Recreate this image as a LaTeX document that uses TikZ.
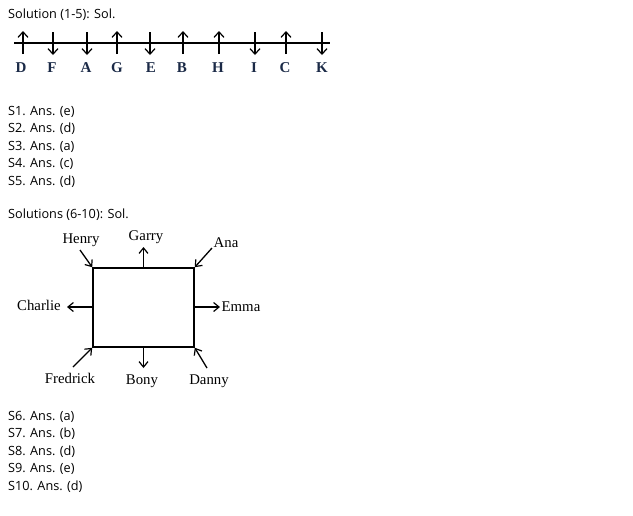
\documentclass[tikz,border=0pt]{standalone}
\usepackage{fontspec}
\setmainfont{Open Sans}
\newfontfamily\labelfont{Liberation Serif}
\usetikzlibrary{arrows.meta}
\definecolor{ltrnavy}{HTML}{1B2A47}
\begin{document}
\begin{tikzpicture}[x=1pt,y=-1pt,
  txt/.style={anchor=base west,inner sep=0pt,font=\fontsize{12.7}{15}\selectfont},
  ltr/.style={inner sep=0pt,font=\labelfont\bfseries\fontsize{15}{17}\selectfont,text=ltrnavy},
  who/.style={inner sep=0pt,font=\labelfont\fontsize{14.8}{17}\selectfont},
  arr/.style={line width=1.4pt,-{Straight Barb[length=5.5pt,width=10pt,line width=1.2pt]}},
  lnk/.style={line width=1.3pt,-{Straight Barb[length=5.5pt,width=9pt,line width=1.2pt]}}]
 \useasboundingbox (0,0) rectangle (633,515);
 \node (sol 1) at (8,18) [txt] {Solution (1-5): Sol.};
 % row
 \coordinate (row l) at (14,43);
 \coordinate (row r) at (330,43);
 \draw[line width=1.3pt] (row l) -- (row r);
 \coordinate (lo D) at (23,54); \coordinate (hi D) at (23,31);
 \coordinate (lo F) at (53,55); \coordinate (hi F) at (53,32);
 \coordinate (lo A) at (87,55); \coordinate (hi A) at (87,32);
 \coordinate (lo G) at (117,54); \coordinate (hi G) at (117,31);
 \coordinate (lo E) at (150,55); \coordinate (hi E) at (150,32);
 \coordinate (lo B) at (183,54); \coordinate (hi B) at (183,31);
 \coordinate (lo H) at (219,54); \coordinate (hi H) at (219,31);
 \coordinate (lo I) at (255,55); \coordinate (hi I) at (255,32);
 \coordinate (lo C) at (286,54); \coordinate (hi C) at (286,31);
 \coordinate (lo K) at (322,55); \coordinate (hi K) at (322,32);
 \draw[arr] (lo D) -- (hi D);
 \draw[arr] (hi F) -- (lo F);
 \draw[arr] (hi A) -- (lo A);
 \draw[arr] (lo G) -- (hi G);
 \draw[arr] (hi E) -- (lo E);
 \draw[arr] (lo B) -- (hi B);
 \draw[arr] (lo H) -- (hi H);
 \draw[arr] (hi I) -- (lo I);
 \draw[arr] (lo C) -- (hi C);
 \draw[arr] (hi K) -- (lo K);
 \node (ltr D) at (21,68) [ltr] {D};
 \node (ltr F) at (52,68) [ltr] {F};
 \node (ltr A) at (86,68) [ltr] {A};
 \node (ltr G) at (117,68) [ltr] {G};
 \node (ltr E) at (151,68) [ltr] {E};
 \node (ltr B) at (182,68) [ltr] {B};
 \node (ltr H) at (218,68) [ltr] {H};
 \node (ltr I) at (254,68) [ltr] {I};
 \node (ltr C) at (285,68) [ltr] {C};
 \node (ltr K) at (322,68) [ltr] {K};
 % answers 1-5
 \node (ans 1) at (8,115) [txt] {S1. Ans. (e)};
 \node (ans 2) at (8,132.5) [txt] {S2. Ans. (d)};
 \node (ans 3) at (8,150) [txt] {S3. Ans. (a)};
 \node (ans 4) at (8,167.5) [txt] {S4. Ans. (c)};
 \node (ans 5) at (8,185) [txt] {S5. Ans. (d)};
 \node (sol 2) at (8,218) [txt] {Solutions (6-10): Sol.};
 % table
 \node (box) at (143.5,307.5) [draw,line width=1.6pt,minimum width=101pt,minimum height=79pt,inner sep=0pt] {};
 \node (henry) at (81,240) [who] {Henry};
 \node (garry) at (146,237) [who] {Garry};
 \node (ana) at (226,243) [who] {Ana};
 \node (charlie) at (39,305) [who] {Charlie};
 \node (emma) at (241,307) [who] {Emma};
 \node (fredrick) at (70,378) [who] {Fredrick};
 \node (bony) at (142,381) [who] {Bony};
 \node (danny) at (209,381) [who] {Danny};
 \coordinate (henry e) at (80,250);
 \coordinate (garry e) at (143.5,247);
 \coordinate (ana e) at (212,248);
 \coordinate (charlie e) at (67,307);
 \coordinate (emma e) at (220,307);
 \coordinate (fredrick e) at (73,367);
 \coordinate (bony e) at (143.5,368);
 \coordinate (danny e) at (207,368);
 \draw[lnk] (henry e) -- (box.north west);
 \draw[lnk] (box.north) -- (garry e);
 \draw[lnk] (ana e) -- (box.north east);
 \draw[lnk] (box.west |- charlie e) -- (charlie e);
 \draw[lnk] (box.east |- emma e) -- (emma e);
 \draw[lnk] (fredrick e) -- (box.south west);
 \draw[lnk] (box.south) -- (bony e);
 \draw[lnk] (danny e) -- (box.south east);
 % answers 6-10
 \node (ans 6) at (8,420) [txt] {S6. Ans. (a)};
 \node (ans 7) at (8,437.5) [txt] {S7. Ans. (b)};
 \node (ans 8) at (8,455) [txt] {S8. Ans. (d)};
 \node (ans 9) at (8,472.5) [txt] {S9. Ans. (e)};
 \node (ans 10) at (8,490) [txt] {S10. Ans. (d)};
\end{tikzpicture}
\end{document}
